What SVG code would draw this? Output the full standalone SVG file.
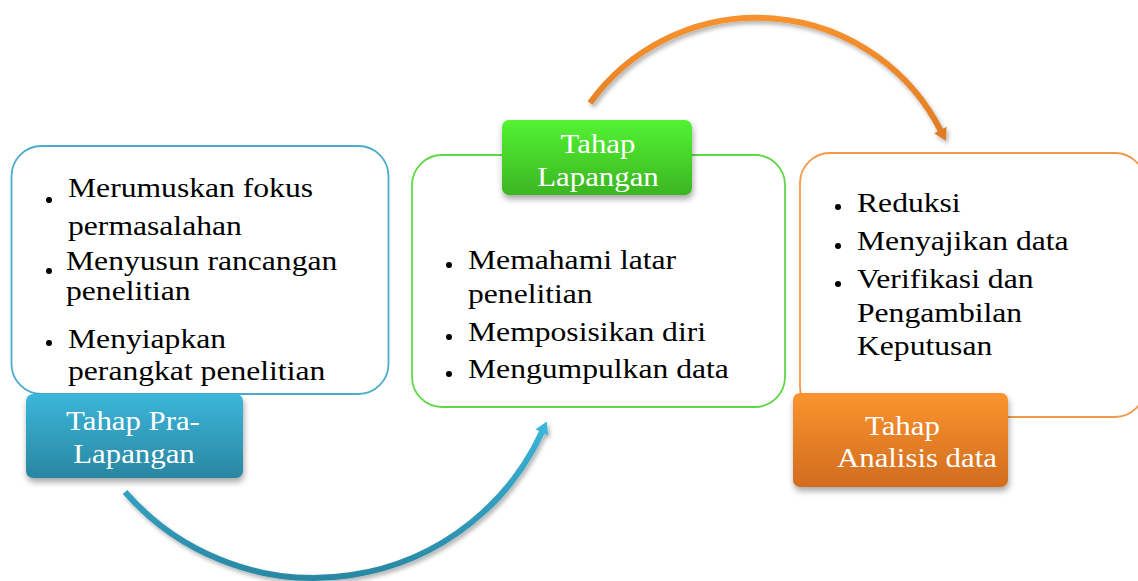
<svg xmlns="http://www.w3.org/2000/svg" width="1138" height="581" viewBox="0 0 1138 581">
<style>
.box{fill:#fff;stroke-width:1.8}
.t{font-family:"Liberation Serif","Times New Roman",serif;font-size:28px;fill:#000}
.lt{font-family:"Liberation Serif","Times New Roman",serif;font-size:28px;fill:#fff}
.b{fill:#000}
</style>
<defs>
<linearGradient id="gBlue" x1="0" y1="0" x2="0" y2="1"><stop offset="0" stop-color="#3bb6db"/><stop offset="1" stop-color="#2a86a1"/></linearGradient>
<linearGradient id="gGreen" x1="0" y1="0" x2="0" y2="1"><stop offset="0" stop-color="#53f333"/><stop offset="1" stop-color="#3bb522"/></linearGradient>
<linearGradient id="gOrange" x1="0" y1="0" x2="0" y2="1"><stop offset="0" stop-color="#fb942f"/><stop offset="1" stop-color="#d16c1f"/></linearGradient>
<linearGradient id="sBlue" gradientUnits="userSpaceOnUse" x1="0" y1="420" x2="0" y2="580"><stop offset="0" stop-color="#3bb6da"/><stop offset="1" stop-color="#2a87a2"/></linearGradient>
<linearGradient id="sOrange" gradientUnits="userSpaceOnUse" x1="0" y1="15" x2="0" y2="140"><stop offset="0" stop-color="#f7922e"/><stop offset="1" stop-color="#e07d26"/></linearGradient>
<filter id="sh" x="-20%" y="-20%" width="140%" height="150%"><feDropShadow dx="1" dy="4" stdDeviation="3" flood-color="#000" flood-opacity="0.35"/></filter>
<filter id="ash" x="-20%" y="-20%" width="140%" height="140%"><feDropShadow dx="2" dy="3" stdDeviation="2" flood-color="#000" flood-opacity="0.3"/></filter>
<marker id="hBlue" markerUnits="userSpaceOnUse" viewBox="0 -8 12 16" markerWidth="12" markerHeight="16" refX="1" refY="0" orient="auto"><path d="M0,-7 L12,0 L0,7 z" fill="#3bb5d9"/></marker>
<marker id="hOrange" markerUnits="userSpaceOnUse" viewBox="0 -8 12 16" markerWidth="12" markerHeight="16" refX="1" refY="0" orient="auto"><path d="M0,-7 L12,0 L0,7 z" fill="#df7c25"/></marker>
</defs>

<g id="connectors" fill="none" stroke-width="6" filter="url(#ash)">
<path d="M125,492 A251,251 0 0 0 542.2,431.5" stroke="url(#sBlue)" marker-end="url(#hBlue)"/>
<path d="M590,103 A206,206 0 0 1 940.8,130.9" stroke="url(#sOrange)" marker-end="url(#hOrange)"/>
</g>

<g id="node-pra-lapangan">
<rect class="box" x="11.5" y="146" width="377" height="248" rx="30" stroke="#4aadcb"/>
<circle class="b" cx="49" cy="200" r="3"/>
<text class="t" transform="translate(68,197) scale(1.13,1)">Merumuskan fokus</text>
<text class="t" transform="translate(68,235) scale(1.13,1)">permasalahan</text>
<circle class="b" cx="49" cy="271" r="3"/>
<text class="t" transform="translate(66,270) scale(1.13,1)">Menyusun rancangan</text>
<text class="t" transform="translate(66,300) scale(1.13,1)">penelitian</text>
<circle class="b" cx="49" cy="343" r="3"/>
<text class="t" transform="translate(68,348) scale(1.13,1)">Menyiapkan</text>
<text class="t" transform="translate(68,380) scale(1.13,1)">perangkat penelitian</text>
<rect x="26" y="394" width="217" height="84" rx="7" fill="url(#gBlue)" filter="url(#sh)"/>
<text class="lt" text-anchor="middle" transform="translate(133,430) scale(1.1,1)">Tahap Pra-</text>
<text class="lt" text-anchor="middle" transform="translate(134,463) scale(1.1,1)">Lapangan</text>
</g>

<g id="node-lapangan">
<rect class="box" x="412" y="155" width="373" height="252" rx="30" stroke="#5ed846"/>
<circle class="b" cx="449" cy="265" r="3"/>
<text class="t" transform="translate(468,269) scale(1.13,1)">Memahami latar</text>
<text class="t" transform="translate(468,303) scale(1.13,1)">penelitian</text>
<circle class="b" cx="449" cy="337" r="3"/>
<text class="t" transform="translate(468,341) scale(1.13,1)">Memposisikan diri</text>
<circle class="b" cx="449" cy="374" r="3"/>
<text class="t" transform="translate(468,378) scale(1.13,1)">Mengumpulkan data</text>
<rect x="502" y="120" width="190" height="75" rx="7" fill="url(#gGreen)" filter="url(#sh)"/>
<text class="lt" text-anchor="middle" transform="translate(598,153) scale(1.1,1)">Tahap</text>
<text class="lt" text-anchor="middle" transform="translate(598,186) scale(1.1,1)">Lapangan</text>
</g>

<g id="node-analisis">
<rect class="box" x="800" y="153" width="345" height="264" rx="30" stroke="#f4984a"/>
<circle class="b" cx="838" cy="207" r="3"/>
<text class="t" transform="translate(857,212) scale(1.13,1)">Reduksi</text>
<circle class="b" cx="838" cy="246" r="3"/>
<text class="t" transform="translate(857,250) scale(1.13,1)">Menyajikan data</text>
<circle class="b" cx="838" cy="284" r="3"/>
<text class="t" transform="translate(857,288) scale(1.13,1)">Verifikasi dan</text>
<text class="t" transform="translate(857,322) scale(1.13,1)">Pengambilan</text>
<text class="t" transform="translate(857,355) scale(1.13,1)">Keputusan</text>
<rect x="793" y="393" width="215" height="94" rx="7" fill="url(#gOrange)" filter="url(#sh)"/>
<text class="lt" transform="translate(865,435) scale(1.1,1)">Tahap</text>
<text class="lt" transform="translate(837,467) scale(1.1,1)">Analisis data</text>
</g>
</svg>
